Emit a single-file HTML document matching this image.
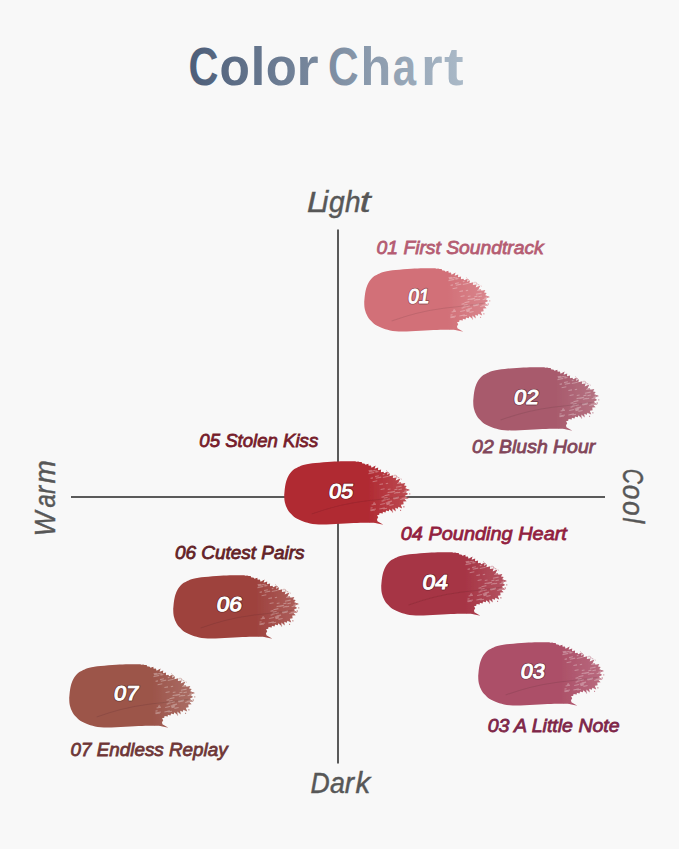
<!DOCTYPE html>
<html><head><meta charset="utf-8"><title>Color Chart</title>
<style>
html,body{margin:0;padding:0;background:#f8f8f8;width:679px;height:849px;overflow:hidden}
svg{display:block}
text{font-family:"Liberation Sans",sans-serif}
</style></head><body>
<svg width="679" height="849" viewBox="0 0 679 849">
<defs>
<linearGradient id="tg" gradientUnits="userSpaceOnUse" x1="189" y1="0" x2="464" y2="0">
<stop offset="0" stop-color="#4d5e79"/><stop offset="1" stop-color="#abbac8"/>
</linearGradient>
<filter id="soft" x="-5%" y="-5%" width="110%" height="110%"><feGaussianBlur stdDeviation="0.4"/></filter>
<linearGradient id="fr" x1="0" y1="0" x2="1" y2="0"><stop offset="0.66" stop-color="#fff" stop-opacity="0"/><stop offset="1" stop-color="#fff" stop-opacity="0.16"/></linearGradient>
<path id="br" d="M0.6 33.2 C0.8 31.8 1.0 27.6 1.5 24.9 C2.0 22.1 2.7 19.1 3.8 16.7 C4.9 14.2 6.2 12.0 8.0 10.2 C9.8 8.4 12.5 7.1 14.6 6.0 C16.7 4.9 17.8 4.3 20.7 3.6 C23.6 2.9 27.6 2.5 32.1 2.0 C36.6 1.5 42.9 1.0 47.5 0.7 C52.1 0.4 56.2 0.3 60.0 0.2 C63.8 0.1 68.3 0.3 70.0 0.3 L71.6 0.3 L73.0 0.7 L74.6 0.6 L75.9 1.1 L78.0 1.0 L78.8 2.4 L80.7 2.5 L81.9 3.6 L84.7 2.8 L85.1 4.6 L87.3 4.4 L88.0 6.5 L92.0 4.3 L91.0 7.7 L94.6 6.4 L94.4 9.0 L97.5 8.3 L97.3 11.1 L99.7 10.6 L100.7 12.0 L104.3 10.4 L103.4 13.4 L106.5 12.1 L105.7 14.9 L109.8 14.0 L109.2 16.7 L113.0 16.1 L112.1 19.1 L116.8 17.2 L114.7 21.3 L117.2 20.7 L117.9 22.4 L121.7 21.5 L120.4 24.0 L123.0 24.5 L121.7 26.6 L125.9 28.1 L122.0 30.3 L124.5 32.4 L121.2 34.1 L124.6 36.7 L120.5 37.1 L123.0 39.5 L119.6 39.8 L120.0 42.3 L117.2 42.8 L118.6 46.5 L114.8 44.8 L114.2 46.7 L111.6 45.9 L112.1 49.5 L108.8 46.5 L108.9 49.9 L105.7 47.2 L105.2 49.3 L102.5 48.5 L101.9 50.4 L99.2 49.8 L99.2 51.5 L96.0 50.9 L95.6 52.7 L93.4 53.3 L94.6 55.2 L93.4 57.2 L93.8 59.1 L99.8 62.6 L92.8 61.0 C90.7 60.9 84.5 60.6 80.0 60.6 C75.5 60.6 71.4 60.8 66.0 61.0 C60.6 61.2 53.1 61.8 47.5 62.0 C41.9 62.2 36.4 62.3 32.1 62.0 C27.8 61.7 24.7 60.8 21.8 60.0 C18.9 59.2 16.7 58.3 14.6 57.2 C12.5 56.1 10.8 55.0 9.0 53.4 C7.2 51.8 5.3 49.8 4.0 47.6 C2.7 45.4 1.8 42.8 1.2 40.4 C0.6 38.0 0.7 34.4 0.6 33.2 Z"/>
<path id="st" d="M92.2 16.9 l5.4 -1.1 M89.0 20.3 l4.7 -0.9 M112.3 25.7 l5.7 -1.1 M120.8 29.7 l2.9 -0.6 M119.0 31.1 l3.1 -0.6 M87.0 48.8 l4.3 -0.9 M100.8 34.0 l5.0 -1.0 M99.2 16.2 l5.9 -1.2 M86.7 48.2 l5.6 -1.1 M99.2 13.4 l1.7 -0.3 M107.0 30.9 l3.4 -0.7 M97.9 35.5 l2.8 -0.6 M102.8 37.7 l3.4 -0.7 M99.7 47.1 l3.8 -0.8 M109.5 36.6 l5.9 -1.2 M104.0 31.0 l3.2 -0.6 M121.2 29.5 l2.5 -0.5 M95.8 23.1 l3.6 -0.7 M110.3 31.6 l3.9 -0.8 M91.4 15.3 l3.9 -0.8 M87.0 17.0 l2.4 -0.5 M102.9 41.8 l3.5 -0.7 M114.6 22.0 l3.4 -0.7 M113.5 22.0 l4.3 -0.9 M121.9 26.2 l1.8 -0.4 M114.8 28.2 l3.5 -0.7 M88.0 43.2 l4.4 -0.9 M99.2 38.6 l3.0 -0.6 M91.9 9.8 l1.7 -0.3 M86.9 46.2 l2.1 -0.4 M121.5 35.4 l2.2 -0.4 M85.4 10.6 l3.6 -0.7 M110.8 28.2 l3.0 -0.6 M97.0 28.0 l4.0 -0.8 M102.9 42.8 l3.1 -0.6 M122.3 28.7 l1.4 -0.3 M105.8 43.5 l4.2 -0.8 M85.0 9.6 l3.1 -0.6 M109.9 37.3 l4.9 -1.0 M87.1 10.1 l4.7 -0.9 M89.5 41.5 l2.0 -0.4 M114.2 31.1 l2.4 -0.5 M100.2 36.5 l3.7 -0.7 M102.1 41.3 l4.8 -1.0 M95.8 47.1 l5.4 -1.1 M96.6 42.6 l4.7 -0.9 M116.6 37.8 l3.9 -0.8 M98.0 39.3 l2.0 -0.4 M103.9 40.2 l4.6 -0.9 M104.2 27.9 l2.7 -0.5 M118.1 36.8 l4.1 -0.8 M107.3 30.5 l4.2 -0.8 M91.8 10.9 l3.1 -0.6 M84.9 12.4 l5.8 -1.2 M102.2 22.3 l2.3 -0.5"/>
<path id="dt" d="M124.0 34.6 h1.2 v1.2 h-1.2 Z M117.3 17.4 h0.8 v0.8 h-0.8 Z M113.0 15.1 h1.0 v1.0 h-1.0 Z M110.8 14.2 h0.8 v0.8 h-0.8 Z M116.4 47.9 h1.1 v1.1 h-1.1 Z M102.5 9.2 h0.8 v0.8 h-0.8 Z M124.0 35.6 h1.0 v1.0 h-1.0 Z M124.9 28.2 h0.9 v0.9 h-0.9 Z M108.4 49.5 h1.1 v1.1 h-1.1 Z M111.0 13.6 h0.9 v0.9 h-0.9 Z M119.8 44.1 h0.7 v0.7 h-0.7 Z M114.6 16.0 h1.0 v1.0 h-1.0 Z M112.3 14.2 h1.0 v1.0 h-1.0 Z M125.6 31.7 h1.1 v1.1 h-1.1 Z M104.2 11.1 h1.2 v1.2 h-1.2 Z M119.7 44.3 h1.2 v1.2 h-1.2 Z"/>
<path id="cr" d="M28 52 C45 46 60 42 80 39.5 S110 36 120 34.5"/>
</defs>
<rect width="679" height="849" fill="#f8f8f8"/>
<text x="188.60" y="85.3" font-size="53" font-weight="bold" fill="url(#tg)" textLength="29.93" lengthAdjust="spacingAndGlyphs">C</text>
<text x="219.56" y="85.3" font-size="53" font-weight="bold" fill="url(#tg)" textLength="30.39" lengthAdjust="spacingAndGlyphs">o</text>
<text x="250.53" y="85.3" font-size="53" font-weight="bold" fill="url(#tg)" textLength="14.98" lengthAdjust="spacingAndGlyphs">l</text>
<text x="265.71" y="85.3" font-size="53" font-weight="bold" fill="url(#tg)" textLength="31.07" lengthAdjust="spacingAndGlyphs">o</text>
<text x="296.21" y="85.3" font-size="53" font-weight="bold" fill="url(#tg)" textLength="22.36" lengthAdjust="spacingAndGlyphs">r</text>
<text x="327.96" y="85.3" font-size="53" font-weight="bold" fill="url(#tg)" textLength="30.60" lengthAdjust="spacingAndGlyphs">C</text>
<text x="360.39" y="85.3" font-size="53" font-weight="bold" fill="url(#tg)" textLength="30.73" lengthAdjust="spacingAndGlyphs">h</text>
<text x="392.87" y="85.3" font-size="53" font-weight="bold" fill="url(#tg)" textLength="23.36" lengthAdjust="spacingAndGlyphs">a</text>
<text x="421.04" y="85.3" font-size="53" font-weight="bold" fill="url(#tg)" textLength="21.60" lengthAdjust="spacingAndGlyphs">r</text>
<text x="444.08" y="85.3" font-size="53" font-weight="bold" fill="url(#tg)" textLength="19.64" lengthAdjust="spacingAndGlyphs">t</text>
<rect x="337" y="229.5" width="2" height="534" fill="#5a5a5a"/>
<rect x="71" y="496" width="534" height="2" fill="#5a5a5a"/>
<g font-style="italic" font-size="29.5" fill="#575757" stroke="#575757" stroke-width="0.45">
<text x="306.99" y="211.5" textLength="18.19" lengthAdjust="spacingAndGlyphs">L</text>
<text x="321.83" y="211.5" textLength="6.51" lengthAdjust="spacingAndGlyphs">i</text>
<text x="328.94" y="211.5" textLength="15.70" lengthAdjust="spacingAndGlyphs">g</text>
<text x="345.04" y="211.5" textLength="15.55" lengthAdjust="spacingAndGlyphs">h</text>
<text x="359.71" y="211.5" textLength="10.92" lengthAdjust="spacingAndGlyphs">t</text>
<text x="310.38" y="792.5" textLength="19.17" lengthAdjust="spacingAndGlyphs">D</text>
<text x="330.10" y="792.5" textLength="14.92" lengthAdjust="spacingAndGlyphs">a</text>
<text x="344.74" y="792.5" textLength="9.32" lengthAdjust="spacingAndGlyphs">r</text>
<text x="355.51" y="792.5" textLength="14.75" lengthAdjust="spacingAndGlyphs">k</text>
<g transform="translate(55 540) rotate(-90)"><text x="3.64" y="0" textLength="24.70" lengthAdjust="spacingAndGlyphs">W</text>
<text x="32.46" y="0" textLength="13.36" lengthAdjust="spacingAndGlyphs">a</text>
<text x="46.10" y="0" textLength="8.09" lengthAdjust="spacingAndGlyphs">r</text>
<text x="56.54" y="0" textLength="23.26" lengthAdjust="spacingAndGlyphs">m</text></g>
<g transform="translate(622.7 460) rotate(90)"><text x="8.84" y="0" textLength="15.14" lengthAdjust="spacingAndGlyphs">C</text>
<text x="24.84" y="0" textLength="14.70" lengthAdjust="spacingAndGlyphs">o</text>
<text x="40.94" y="0" textLength="14.70" lengthAdjust="spacingAndGlyphs">o</text>
<text x="57.39" y="0" textLength="5.64" lengthAdjust="spacingAndGlyphs">l</text></g>
</g>

<g transform="translate(363.6 268) scale(1 1.02)" filter="url(#soft)"><use href="#br" fill="#d27078"/><use href="#br" fill="url(#fr)"/><use href="#dt" fill="#d27078" fill-opacity="0.6"/><use href="#st" stroke="#fff" stroke-opacity="0.3" stroke-width="1.1" fill="none"/><use href="#cr" stroke="#000" stroke-opacity="0.09" stroke-width="1" fill="none"/></g>
<text transform="translate(418.0 302.8) skewX(-9)" x="0" y="0" font-size="20" font-weight="normal" fill="none" stroke="#000" stroke-opacity="0.3" stroke-width="2.8" stroke-linejoin="round" text-anchor="middle" textLength="21.1" lengthAdjust="spacingAndGlyphs">01</text>
<text transform="translate(418.0 302.8) skewX(-9)" x="0" y="0" font-size="20" font-weight="normal" fill="#fff" stroke="#fff" stroke-width="1.0" text-anchor="middle" textLength="21.1" lengthAdjust="spacingAndGlyphs">01</text>
<g transform="translate(472.6 367) scale(1 1.02)" filter="url(#soft)"><use href="#br" fill="#a85a6c"/><use href="#br" fill="url(#fr)"/><use href="#dt" fill="#a85a6c" fill-opacity="0.6"/><use href="#st" stroke="#fff" stroke-opacity="0.3" stroke-width="1.1" fill="none"/><use href="#cr" stroke="#000" stroke-opacity="0.09" stroke-width="1" fill="none"/></g>
<text transform="translate(525.5 403.6) skewX(-9)" x="0" y="0" font-size="20" font-weight="normal" fill="none" stroke="#000" stroke-opacity="0.3" stroke-width="2.8" stroke-linejoin="round" text-anchor="middle" textLength="24.3" lengthAdjust="spacingAndGlyphs">02</text>
<text transform="translate(525.5 403.6) skewX(-9)" x="0" y="0" font-size="20" font-weight="normal" fill="#fff" stroke="#fff" stroke-width="1.0" text-anchor="middle" textLength="24.3" lengthAdjust="spacingAndGlyphs">02</text>
<g transform="translate(283.6 461) scale(1 1.02)" filter="url(#soft)"><use href="#br" fill="#b02a32"/><use href="#br" fill="url(#fr)"/><use href="#dt" fill="#b02a32" fill-opacity="0.6"/><use href="#st" stroke="#fff" stroke-opacity="0.3" stroke-width="1.1" fill="none"/><use href="#cr" stroke="#000" stroke-opacity="0.09" stroke-width="1" fill="none"/></g>
<text transform="translate(340.3 497.8) skewX(-9)" x="0" y="0" font-size="20" font-weight="normal" fill="none" stroke="#000" stroke-opacity="0.3" stroke-width="2.8" stroke-linejoin="round" text-anchor="middle" textLength="24.0" lengthAdjust="spacingAndGlyphs">05</text>
<text transform="translate(340.3 497.8) skewX(-9)" x="0" y="0" font-size="20" font-weight="normal" fill="#fff" stroke="#fff" stroke-width="1.0" text-anchor="middle" textLength="24.0" lengthAdjust="spacingAndGlyphs">05</text>
<g transform="translate(380.6 552) scale(1 1.02)" filter="url(#soft)"><use href="#br" fill="#a63444"/><use href="#br" fill="url(#fr)"/><use href="#dt" fill="#a63444" fill-opacity="0.6"/><use href="#st" stroke="#fff" stroke-opacity="0.3" stroke-width="1.1" fill="none"/><use href="#cr" stroke="#000" stroke-opacity="0.09" stroke-width="1" fill="none"/></g>
<text transform="translate(434.4 588.9) skewX(-9)" x="0" y="0" font-size="20" font-weight="normal" fill="none" stroke="#000" stroke-opacity="0.3" stroke-width="2.8" stroke-linejoin="round" text-anchor="middle" textLength="25.2" lengthAdjust="spacingAndGlyphs">04</text>
<text transform="translate(434.4 588.9) skewX(-9)" x="0" y="0" font-size="20" font-weight="normal" fill="#fff" stroke="#fff" stroke-width="1.0" text-anchor="middle" textLength="25.2" lengthAdjust="spacingAndGlyphs">04</text>
<g transform="translate(477.6 642) scale(1 1.02)" filter="url(#soft)"><use href="#br" fill="#ac5068"/><use href="#br" fill="url(#fr)"/><use href="#dt" fill="#ac5068" fill-opacity="0.6"/><use href="#st" stroke="#fff" stroke-opacity="0.3" stroke-width="1.1" fill="none"/><use href="#cr" stroke="#000" stroke-opacity="0.09" stroke-width="1" fill="none"/></g>
<text transform="translate(532.1 678.1) skewX(-9)" x="0" y="0" font-size="20" font-weight="normal" fill="none" stroke="#000" stroke-opacity="0.3" stroke-width="2.8" stroke-linejoin="round" text-anchor="middle" textLength="24.0" lengthAdjust="spacingAndGlyphs">03</text>
<text transform="translate(532.1 678.1) skewX(-9)" x="0" y="0" font-size="20" font-weight="normal" fill="#fff" stroke="#fff" stroke-width="1.0" text-anchor="middle" textLength="24.0" lengthAdjust="spacingAndGlyphs">03</text>
<g transform="translate(172.6 575) scale(1 1.02)" filter="url(#soft)"><use href="#br" fill="#9e423e"/><use href="#br" fill="url(#fr)"/><use href="#dt" fill="#9e423e" fill-opacity="0.6"/><use href="#st" stroke="#fff" stroke-opacity="0.3" stroke-width="1.1" fill="none"/><use href="#cr" stroke="#000" stroke-opacity="0.09" stroke-width="1" fill="none"/></g>
<text transform="translate(228.6 610.9) skewX(-9)" x="0" y="0" font-size="20" font-weight="normal" fill="none" stroke="#000" stroke-opacity="0.3" stroke-width="2.8" stroke-linejoin="round" text-anchor="middle" textLength="25.1" lengthAdjust="spacingAndGlyphs">06</text>
<text transform="translate(228.6 610.9) skewX(-9)" x="0" y="0" font-size="20" font-weight="normal" fill="#fff" stroke="#fff" stroke-width="1.0" text-anchor="middle" textLength="25.1" lengthAdjust="spacingAndGlyphs">06</text>
<g transform="translate(68.6 664) scale(1 1.02)" filter="url(#soft)"><use href="#br" fill="#9c544a"/><use href="#br" fill="url(#fr)"/><use href="#dt" fill="#9c544a" fill-opacity="0.6"/><use href="#st" stroke="#fff" stroke-opacity="0.3" stroke-width="1.1" fill="none"/><use href="#cr" stroke="#000" stroke-opacity="0.09" stroke-width="1" fill="none"/></g>
<text transform="translate(125.4 699.5) skewX(-9)" x="0" y="0" font-size="20" font-weight="normal" fill="none" stroke="#000" stroke-opacity="0.3" stroke-width="2.8" stroke-linejoin="round" text-anchor="middle" textLength="24.3" lengthAdjust="spacingAndGlyphs">07</text>
<text transform="translate(125.4 699.5) skewX(-9)" x="0" y="0" font-size="20" font-weight="normal" fill="#fff" stroke="#fff" stroke-width="1.0" text-anchor="middle" textLength="24.3" lengthAdjust="spacingAndGlyphs">07</text>
<g font-size="19" font-style="italic" stroke-width="0.8">
<text x="376.6" y="254.4" fill="#b55c72" stroke="#b55c72" textLength="167.1" lengthAdjust="spacingAndGlyphs">01 First Soundtrack</text>
<text x="472.1" y="452.6" fill="#82465a" stroke="#82465a" textLength="123.1" lengthAdjust="spacingAndGlyphs">02 Blush Hour</text>
<text x="199.3" y="446.7" fill="#761c2a" stroke="#761c2a" textLength="118.9" lengthAdjust="spacingAndGlyphs">05 Stolen Kiss</text>
<text x="400.8" y="539.7" fill="#921f40" stroke="#921f40" textLength="166.1" lengthAdjust="spacingAndGlyphs">04 Pounding Heart</text>
<text x="174.9" y="559.3" fill="#632226" stroke="#632226" textLength="129.7" lengthAdjust="spacingAndGlyphs">06 Cutest Pairs</text>
<text x="487.7" y="731.8" fill="#7e2648" stroke="#7e2648" textLength="131.9" lengthAdjust="spacingAndGlyphs">03 A Little Note</text>
<text x="70.6" y="756.1" fill="#6e3636" stroke="#6e3636" textLength="157.0" lengthAdjust="spacingAndGlyphs">07 Endless Replay</text>
</g></svg></body></html>
